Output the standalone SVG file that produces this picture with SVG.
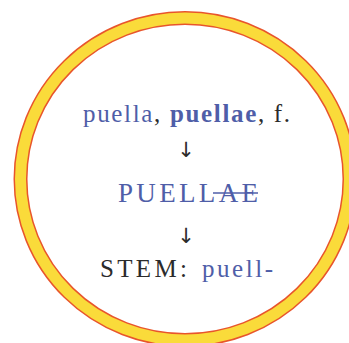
<svg xmlns="http://www.w3.org/2000/svg" width="349" height="343" viewBox="0 0 349 343">
<style>
text{font-family:"Liberation Serif","DejaVu Serif",serif;}
.b{fill:#4f5ea8;}
.k{fill:#2b2b2b;}
.arr{font-family:"DejaVu Sans","Liberation Sans",sans-serif;font-size:21px;fill:#2b2b2b;}
</style>
<rect width="349" height="343" fill="#ffffff"/>
<g id="ring">
<ellipse cx="185" cy="179" rx="164.5" ry="161" fill="none" stroke="#e8552c" stroke-width="14"/>
<ellipse cx="185" cy="179" rx="164.5" ry="161" fill="none" stroke="#fadb3a" stroke-width="11"/>
</g>
<g id="line1">
<text x="83" y="122" font-size="25" textLength="207" lengthAdjust="spacing"><tspan class="b">puella</tspan><tspan class="k">, </tspan><tspan class="b" font-weight="bold">puellae</tspan><tspan class="k">, f.</tspan></text>
</g>
<g id="arrows">
<text x="186" y="157" text-anchor="middle" class="arr">↓</text>
<text x="186" y="243" text-anchor="middle" class="arr">↓</text>
</g>
<g id="line2">
<text x="118" y="202" font-size="27" textLength="140" lengthAdjust="spacing" class="b">PUELLAE</text>
<line x1="213" y1="193" x2="258" y2="193" stroke="#4f5ea8" stroke-width="1.5"/>
</g>
<g id="line3">
<text x="100" y="277" font-size="25" class="k" textLength="87" lengthAdjust="spacing">STEM:</text>
<text x="202" y="277" font-size="25" class="b" textLength="71" lengthAdjust="spacing">puell-</text>
</g>
</svg>
